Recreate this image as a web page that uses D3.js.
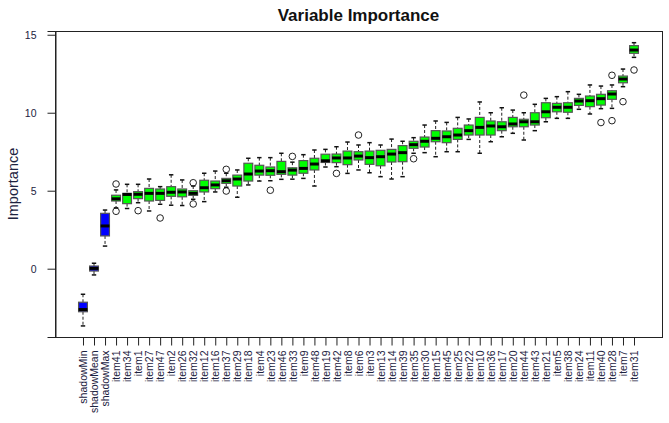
<!DOCTYPE html>
<html>
<head>
<meta charset="utf-8">
<script src="https://cdn.jsdelivr.net/npm/d3@7"></script>
<style>
  body { margin: 0; background: #fff; }
  svg text { font-family: Arial, "Liberation Sans", sans-serif; }
</style>
</head>
<body>
<div id="chart"></div>
<script>
// variables, sorted by median importance
var labels = ['shadowMin','shadowMean','shadowMax','item41','item34','item1','item27','item47','item2','item26',
  'item32','item12','item16','item37','item29','item18','item4','item23','item46','item33',
  'item9','item48','item19','item42','item8','item6','item3','item13','item14','item39',
  'item35','item30','item15','item45','item25','item22','item10','item36','item17','item20',
  'item44','item43','item21','item5','item38','item24','item11','item40','item28','item7','item31']

// box stats
var whiskLo = [-3.67,-0.40,1.45,3.90,3.86,4.23,3.70,4.13,4.07,4.05,
  4.45,4.30,4.92,5.22,4.58,5.37,5.62,5.64,5.73,5.74,
  5.79,5.30,6.52,6.54,6.11,6.33,6.15,5.90,5.75,5.90,
  7.40,7.44,7.18,7.50,7.50,8.29,7.40,8.14,8.46,8.68,
  8.25,8.85,9.42,9.64,9.64,10.22,9.92,10.26,10.28,11.67,13.55]
var q1 = [-2.76,-0.15,2.10,4.34,4.17,4.49,4.34,4.38,4.64,4.61,
  4.70,4.92,5.13,5.47,5.30,5.62,6.00,5.99,6.05,6.00,
  6.12,6.33,6.81,6.80,6.67,6.97,6.69,6.60,6.84,6.86,
  7.72,7.80,8.14,8.08,8.29,8.57,8.57,8.57,8.85,9.10,
  9.10,9.21,9.68,10.06,10.03,10.47,10.39,10.49,10.86,11.92,13.81]
var med = [-2.62,0.02,2.74,4.48,4.76,4.77,4.83,4.83,4.90,4.92,
  4.83,5.19,5.37,5.64,5.75,6.07,6.26,6.28,6.22,6.32,
  6.43,6.71,6.92,7.10,7.10,7.22,7.12,7.18,7.35,7.44,
  7.95,8.17,8.36,8.46,8.57,8.85,9.06,9.15,9.10,9.28,
  9.42,9.42,10.06,10.35,10.35,10.75,10.77,10.90,11.20,12.16,14.02]
var q3 = [-2.15,0.17,3.55,4.71,4.83,4.94,5.15,5.11,5.26,5.11,
  5.00,5.67,5.62,5.79,6.00,6.76,6.63,6.52,6.88,6.47,
  6.93,7.08,7.34,7.35,7.54,7.50,7.54,7.59,7.65,7.89,
  8.17,8.44,8.85,8.83,9.00,9.21,9.70,9.47,9.42,9.70,
  9.58,10.00,10.64,10.60,10.64,10.92,11.07,11.18,11.41,12.35,14.30]
var whiskHi = [-1.64,0.35,3.76,5.05,5.41,5.41,5.75,5.26,6.02,5.69,
  5.30,6.12,6.26,6.12,6.33,7.08,7.12,7.12,7.40,6.83,
  7.31,7.61,7.65,7.82,8.12,7.93,8.08,7.93,8.31,8.17,
  8.40,9.21,9.47,9.38,9.70,9.60,10.69,10.00,10.32,10.17,
  10.00,10.54,10.92,11.03,11.35,11.18,11.78,11.71,11.78,12.80,14.49]
var outliers = [[],[],[],[5.43,3.68],[],[3.72],[],[3.25],[],[],
  [5.51,4.15],[],[],[6.37,4.98],[],[],[],[5.03],[],[7.20],
  [],[],[],[6.11],[],[8.57],[],[],[],[],
  [7.05],[],[],[],[],[],[],[],[],[],
  [11.13],[],[],[],[],[],[],[9.37],[12.40,9.49],[10.71],[12.74]]
var isShadow = labels.map(function(d) { return d.indexOf('shadow') === 0 })

var yTicks = [0, 5, 10, 15]

var W = 669, H = 423
var mLeft = 55, mRight = 662, mTop = 31, mBottom = 337
var n = labels.length

var svg = d3.select('#chart').append('svg')
  .attr('width', W)
  .attr('height', H)

// R style: range 0.5..n+0.5 plus 4% on each side
var pad = 0.04 * n
var x = d3.scaleLinear()
  .domain([0.5 - pad, n + 0.5 + pad])
  .range([mLeft, mRight])
var y = d3.scaleLinear()
  .domain([-4.38, 15.24])
  .range([mBottom, mTop])

var bw = (x(1.4) - x(0.6))   // boxwex 0.8
var sw = bw / 2              // staple

var g = svg.append('g')

var boxes = g.selectAll('.box')
  .data(labels)
  .enter()
  .append('g')
  .attr('class', 'box')

// whiskers (dashed)
boxes.append('line')
  .attr('x1', function(d, i) { return x(i + 1) })
  .attr('x2', function(d, i) { return x(i + 1) })
  .attr('y1', function(d, i) { return y(whiskHi[i]) })
  .attr('y2', function(d, i) { return y(q3[i]) })
  .attr('stroke', '#222')
  .attr('stroke-dasharray', '3,2')
boxes.append('line')
  .attr('x1', function(d, i) { return x(i + 1) })
  .attr('x2', function(d, i) { return x(i + 1) })
  .attr('y1', function(d, i) { return y(q1[i]) })
  .attr('y2', function(d, i) { return y(whiskLo[i]) })
  .attr('stroke', '#222')
  .attr('stroke-dasharray', '3,2')

// staples
boxes.append('line')
  .attr('x1', function(d, i) { return x(i + 1) - sw / 2 })
  .attr('x2', function(d, i) { return x(i + 1) + sw / 2 })
  .attr('y1', function(d, i) { return y(whiskHi[i]) })
  .attr('y2', function(d, i) { return y(whiskHi[i]) })
  .attr('stroke', '#111')
  .attr('stroke-width', 1.5)
boxes.append('line')
  .attr('x1', function(d, i) { return x(i + 1) - sw / 2 })
  .attr('x2', function(d, i) { return x(i + 1) + sw / 2 })
  .attr('y1', function(d, i) { return y(whiskLo[i]) })
  .attr('y2', function(d, i) { return y(whiskLo[i]) })
  .attr('stroke', '#111')
  .attr('stroke-width', 1.5)

// box
boxes.append('rect')
  .attr('x', function(d, i) { return x(i + 1) - bw / 2 })
  .attr('y', function(d, i) { return y(q3[i]) })
  .attr('width', bw)
  .attr('height', function(d, i) { return y(q1[i]) - y(q3[i]) })
  .attr('fill', function(d, i) { return isShadow[i] ? '#0000ff' : '#00ff00' })
  .attr('stroke', '#555')
  .attr('stroke-width', 1.2)

// median
boxes.append('line')
  .attr('x1', function(d, i) { return x(i + 1) - bw / 2 })
  .attr('x2', function(d, i) { return x(i + 1) + bw / 2 })
  .attr('y1', function(d, i) { return y(med[i]) })
  .attr('y2', function(d, i) { return y(med[i]) })
  .attr('stroke', '#000')
  .attr('stroke-width', 3)

// outliers
boxes.each(function(d, i) {
  d3.select(this).selectAll('circle')
    .data(outliers[i])
    .enter()
    .append('circle')
    .attr('cx', x(i + 1))
    .attr('cy', function(v) { return y(v) })
    .attr('r', 3.3)
    .attr('fill', 'none')
    .attr('stroke', '#222')
    .attr('stroke-width', 1)
})

// frame
svg.append('rect')
  .attr('x', mLeft + 0.5)
  .attr('y', mTop + 0.5)
  .attr('width', mRight - mLeft)
  .attr('height', mBottom - mTop)
  .attr('fill', 'none')
  .attr('stroke', '#222')

// y axis
var yAxis = d3.axisLeft(y)
  .tickValues(yTicks)
  .tickSize(8)
  .tickPadding(11)
svg.append('g')
  .attr('transform', 'translate(' + (mLeft + 0.5) + ',0)')
  .call(yAxis)
  .call(function(a) {
    a.select('.domain').attr('stroke', '#222')
    a.selectAll('line').attr('stroke', '#222')
    a.selectAll('text').attr('fill', '#1c2240').style('font-size', '10.5px')
      .style('font-family', 'Arial, "Liberation Sans", sans-serif')
  })

// x axis
var xAxis = d3.axisBottom(x)
  .tickValues(d3.range(1, n + 1))
  .tickFormat(function(d) { return labels[d - 1] })
  .tickSize(8)
svg.append('g')
  .attr('transform', 'translate(0,' + (mBottom + 0.5) + ')')
  .call(xAxis)
  .call(function(a) {
    a.select('.domain').attr('d', 'M' + (x(1) + 0.5) + ',0H' + (x(n) + 0.5)).attr('stroke', '#222')
    a.selectAll('line').attr('stroke', '#222')
    a.selectAll('text')
      .attr('transform', 'rotate(-90)')
      .attr('x', -13)
      .attr('y', 0)
      .attr('dy', '0.35em')
      .style('text-anchor', 'end')
      .attr('fill', '#1c2240')
      .style('font-size', '10.5px')
      .style('font-family', 'Arial, "Liberation Sans", sans-serif')
  })

// title and y label
svg.append('text')
  .attr('x', (mLeft + mRight) / 2)
  .attr('y', 21)
  .attr('text-anchor', 'middle')
  .style('font-size', '17px')
  .style('font-weight', 'bold')
  .attr('fill', '#111')
  .text('Variable Importance')

svg.append('text')
  .attr('transform', 'translate(18,' + ((mTop + mBottom) / 2) + ') rotate(-90)')
  .attr('text-anchor', 'middle')
  .style('font-size', '14.5px')
  .attr('fill', '#1c2240')
  .text('Importance')
</script>
</body>
</html>
